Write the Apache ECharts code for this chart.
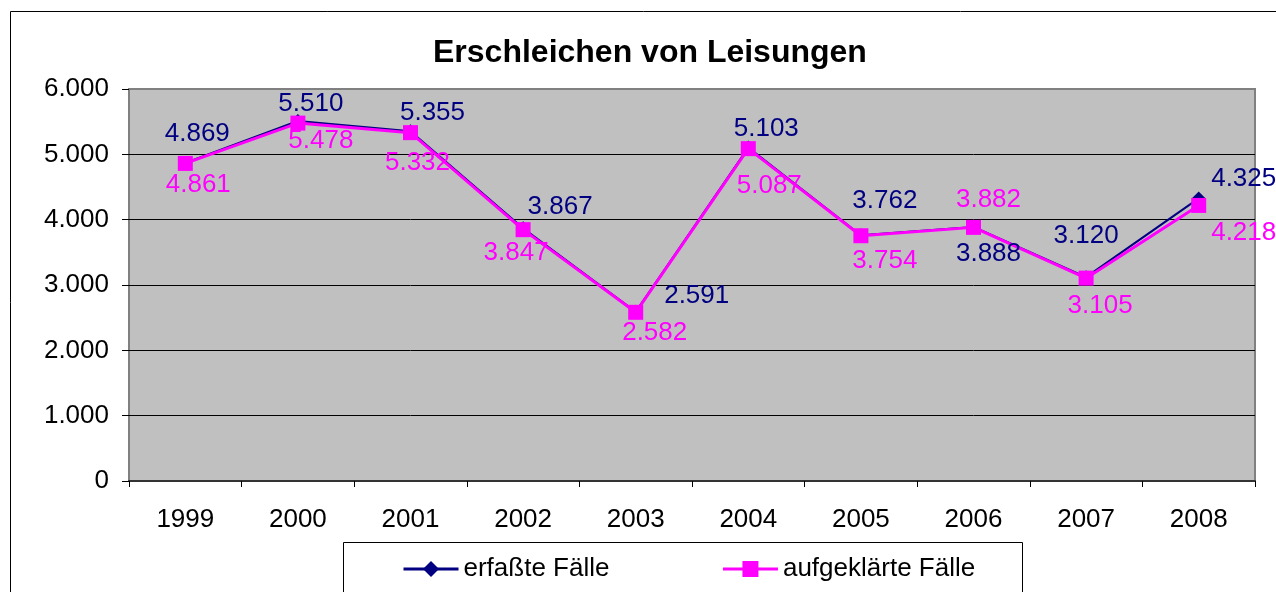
<!DOCTYPE html>
<html>
<head>
<meta charset="utf-8">
<script src="https://cdn.jsdelivr.net/npm/echarts@6/dist/echarts.min.js"></script>
<style>
  html, body { margin: 0; padding: 0; background: #fff; }
  #chart { width: 1276px; height: 592px; }
</style>
</head>
<body>
<div id="chart"></div>
<script>
var years = ['1999', '2000', '2001', '2002', '2003', '2004', '2005', '2006', '2007', '2008'];
var erfasst = [4869, 5510, 5355, 3867, 2591, 5103, 3762, 3888, 3120, 4325];
var aufgeklaert = [4861, 5478, 5332, 3847, 2582, 5087, 3754, 3882, 3105, 4218];
var yTicks = [0, 1000, 2000, 3000, 4000, 5000, 6000];

// label offsets (px) from each point
var navyOffsets = [[12, -29], [13, -17], [22, -18], [37, -22], [61, -16], [18, -19], [24, -34], [15, 27], [0, -41], [45, -20]];
var pinkOffsets = [[13, 21], [23, 18], [7, 30], [-7, 23], [19, 21], [21, 37], [24, 25], [15, -28], [14, 28], [45, 27]];

function fmt(v) {
  return String(v).replace(/\B(?=(\d{3})+(?!\d))/g, '.');
}

function withLabels(values, offsets) {
  return values.map(function (v, i) {
    return { value: v, label: { offset: offsets[i] } };
  });
}

var chart = echarts.init(document.getElementById('chart'));

var font = '"Liberation Sans", Arial, sans-serif';

var option = {
  animation: false,
  textStyle: { fontFamily: font },
  title: {
    text: 'Erschleichen von Leisungen',
    left: 428,
    top: 32,
    textStyle: { fontSize: 32, fontWeight: 'bold', color: '#000', fontFamily: font }
  },
  grid: {
    left: 129, top: 89, right: 21, bottom: 111,
    show: true,
    backgroundColor: '#C0C0C0',
    borderColor: '#808080',
    borderWidth: 2
  },
  legend: {
    left: 397,
    top: 551,
    itemWidth: 55,
    itemHeight: 20,
    itemGap: 112,
    lineStyle: { width: 3 },
    textStyle: { fontSize: 26, color: '#000', fontFamily: font },
    data: ['erfaßte Fälle', 'aufgeklärte Fälle']
  },
  graphic: [
    {
      type: 'rect', z: -10,
      shape: { x: 10.5, y: 11.5, width: 1400, height: 800 },
      style: { fill: null, stroke: '#000', lineWidth: 1 }
    },
    {
      type: 'rect', z: -10,
      shape: { x: 343.5, y: 542.5, width: 679, height: 100 },
      style: { fill: '#fff', stroke: '#000', lineWidth: 1 }
    }
  ],
  xAxis: {
    type: 'category',
    data: years,
    boundaryGap: true,
    axisLine: { show: true, lineStyle: { color: '#333', width: 2 } },
    axisTick: { show: true, length: 6, lineStyle: { color: '#000' } },
    axisLabel: { fontSize: 26, color: '#000', margin: 26 },
    splitLine: { show: false }
  },
  yAxis: {
    type: 'value',
    min: yTicks[0],
    max: yTicks[yTicks.length - 1],
    interval: 1000,
    axisLine: { show: false },
    axisTick: { show: true, length: 7, lineStyle: { color: '#000' } },
    axisLabel: { fontSize: 26, color: '#000', margin: 20, formatter: function (v) { return fmt(v); } },
    splitLine: { show: true, showMaxLine: false, showMinLine: false, lineStyle: { color: '#000', width: 1 } }
  },
  series: [
    {
      name: 'erfaßte Fälle',
      type: 'line',
      color: '#000080',
      symbol: 'diamond',
      symbolSize: 14,
      lineStyle: { width: 2, color: '#000080' },
      label: {
        show: true, position: 'inside', fontSize: 26, color: '#000080',
        formatter: function (p) { return fmt(p.value); }
      },
      data: withLabels(erfasst, navyOffsets)
    },
    {
      name: 'aufgeklärte Fälle',
      type: 'line',
      color: '#FF00FF',
      symbol: 'rect',
      symbolSize: 15,
      lineStyle: { width: 3, color: '#FF00FF' },
      label: {
        show: true, position: 'inside', fontSize: 26, color: '#FF00FF',
        formatter: function (p) { return fmt(p.value); }
      },
      data: withLabels(aufgeklaert, pinkOffsets)
    }
  ]
};

chart.setOption(option);
</script>
</body>
</html>
